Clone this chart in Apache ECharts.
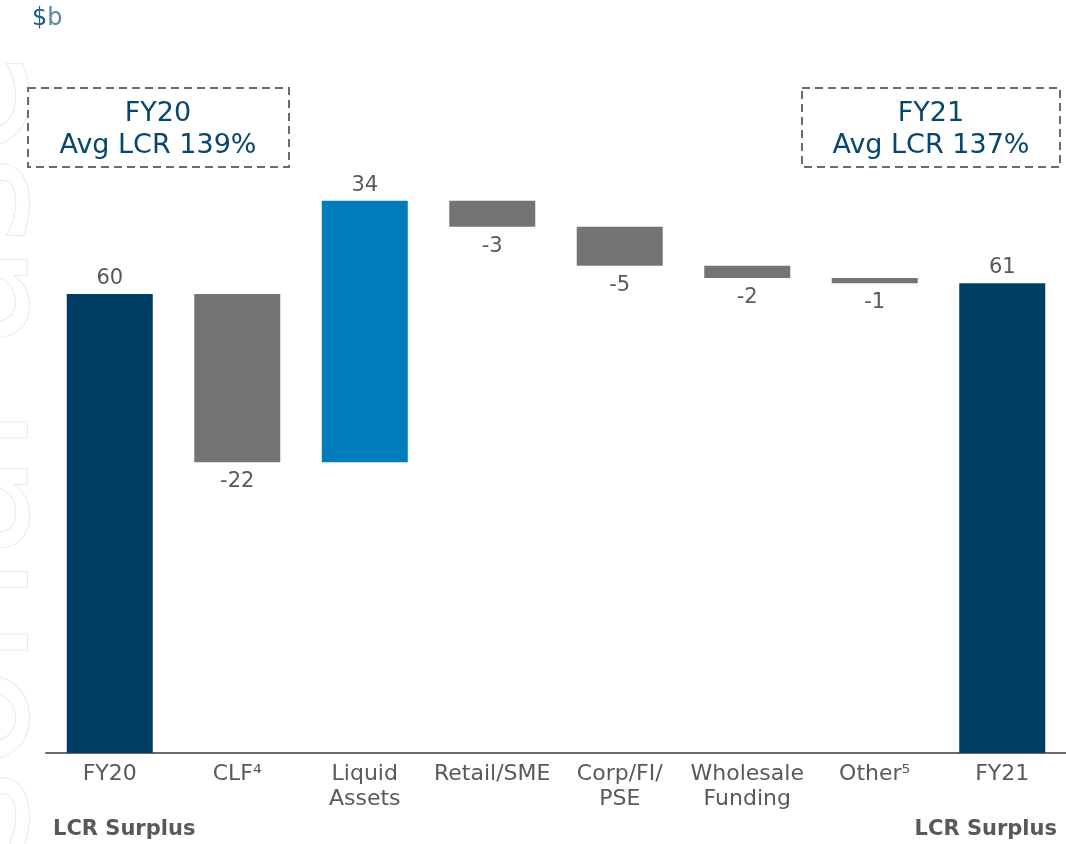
<!DOCTYPE html>
<html>
<head>
<meta charset="utf-8">
<script src="https://cdn.jsdelivr.net/npm/echarts@6/dist/echarts.min.js"></script>
<style>
  html, body { margin: 0; padding: 0; background: #fff; }
  #chart { width: 1066px; height: 844px; }
</style>
</head>
<body>
<div id="chart"></div>
<script>
  // categories and values ($b)
  var categories = ['FY20', 'CLF⁴', 'Liquid\nAssets', 'Retail/SME', 'Corp/FI/\nPSE', 'Wholesale\nFunding', 'Other⁵', 'FY21'];
  var changes = [60, -22, 34.2, -3.4, -5.1, -1.6, -0.7, 61.4];
  var isTotal = [true, false, false, false, false, false, false, true];
  var boxTexts = ['FY20\nAvg LCR 139%', 'FY21\nAvg LCR 137%'];

  var navy = '#003f63';
  var grey = '#747474';
  var blue = '#007dba';
  var textGrey = '#595959';
  var ff = 'DejaVu Sans';

  // waterfall: invisible base + visible part
  var base = [];
  var visible = [];
  var running = 0;
  for (var i = 0; i < changes.length; i++) {
    var v = changes[i];
    var color, pos;
    if (isTotal[i]) {
      base.push(0);
      running = v;
      visible.push({ value: v, itemStyle: { color: navy }, label: { position: 'top', distance: 5 } });
      continue;
    }
    if (v >= 0) {
      base.push(running);
      color = blue; pos = 'top';
    } else {
      base.push(running + v);
      color = grey; pos = 'bottom';
    }
    running += v;
    visible.push({ value: Math.abs(v), itemStyle: { color: color }, label: { position: pos, distance: v >= 0 ? 5 : 9 } });
  }

  var chart = echarts.init(document.getElementById('chart'));
  chart.setOption({
    backgroundColor: '#fff',
    textStyle: { fontFamily: ff },
    grid: { left: 46, right: -4, top: 141, bottom: 91 },
    xAxis: {
      type: 'category',
      data: categories,
      axisTick: { show: false },
      axisLine: { lineStyle: { color: '#6b6b6b', width: 2 } },
      axisLabel: { color: textGrey, fontSize: 22, lineHeight: 25, margin: 9, interval: 0 }
    },
    yAxis: { type: 'value', min: 0, max: 80, show: false },
    series: [
      {
        type: 'bar', stack: 'w', data: base, barWidth: 86,
        itemStyle: { color: 'transparent' }, silent: true
      },
      {
        type: 'bar', stack: 'w', data: visible, barWidth: 86, z: 3,
        label: {
          show: true, color: textGrey, fontSize: 21,
          formatter: function (p) { return Math.round(changes[p.dataIndex]); }
        }
      }
    ],
    graphic: [
      // faint outlined watermark down the left edge (mostly off the page)
      {
        type: 'group', x: 68, y: 1460, rotation: Math.PI / 2, z: 0,
        children: [{
          type: 'text', z: 0,
          style: {
            text: 'For personal use only', fontSize: 170, fontFamily: ff,
            fill: '#ffffff', stroke: '#e2e2e2', lineWidth: 1.5,
            align: 'left', verticalAlign: 'bottom'
          }
        }]
      },
      {
        type: 'text', x: 32, y: 7, z: 10,
        style: {
          text: '{a|$}{b|b}', fontSize: 24, fontFamily: ff,
          rich: { a: { fontSize: 24, fontFamily: ff, fill: '#1f5b82' }, b: { fontSize: 24, fontFamily: ff, fill: '#5b86a6' } }
        }
      },
      {
        type: 'rect', z: 10, shape: { x: 28, y: 88, width: 261, height: 79 },
        style: { fill: 'transparent', stroke: '#6b6b6b', lineWidth: 2, lineDash: [8, 5] }
      },
      {
        type: 'text', x: 158, y: 130, z: 10,
        style: { text: boxTexts[0], fontSize: 27, fontFamily: ff, fill: '#07466d', textAlign: 'center', textVerticalAlign: 'middle', lineHeight: 32 }
      },
      {
        type: 'rect', z: 10, shape: { x: 802, y: 88, width: 258, height: 79 },
        style: { fill: 'transparent', stroke: '#6b6b6b', lineWidth: 2, lineDash: [8, 5] }
      },
      {
        type: 'text', x: 931, y: 130, z: 10,
        style: { text: boxTexts[1], fontSize: 27, fontFamily: ff, fill: '#07466d', textAlign: 'center', textVerticalAlign: 'middle', lineHeight: 32 }
      },
      {
        type: 'text', x: 53, y: 830, z: 10,
        style: { text: 'LCR Surplus', fontSize: 21, fontWeight: 'bold', fontFamily: ff, fill: textGrey, textAlign: 'left', textVerticalAlign: 'middle' }
      },
      {
        type: 'text', x: 1057, y: 830, z: 10,
        style: { text: 'LCR Surplus', fontSize: 21, fontWeight: 'bold', fontFamily: ff, fill: textGrey, textAlign: 'right', textVerticalAlign: 'middle' }
      }
    ]
  });
</script>
</body>
</html>
